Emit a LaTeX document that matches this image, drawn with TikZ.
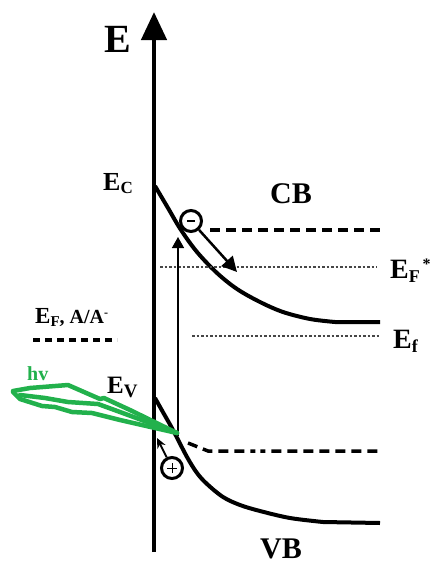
\documentclass[tikz,border=0pt]{standalone}
\usepackage{fontspec}
\setmainfont{Liberation Serif}
\usetikzlibrary{arrows.meta}
\definecolor{pgreen}{RGB}{34,177,76}
\definecolor{dotgray}{RGB}{70,70,70}
\newcommand\fsz[1]{\fontsize{#1}{#1}\selectfont}
\begin{document}
\begin{tikzpicture}[x=1pt,y=-1pt,
  lbl/.style={inner sep=0pt, anchor=base west, font=\bfseries},
  band/.style={line width=4pt, line join=round},
  dashedlvl/.style={line width=3.5pt, dash pattern=on 10pt off 6pt},
  dottedlvl/.style={dotgray, line width=2.5pt, dash pattern=on 2.5pt off 2pt},
  greenline/.style={pgreen, line width=4.5pt, line join=round, line cap=round},
  carrier/.style={circle, draw, line width=3pt, minimum size=21pt, inner sep=0pt}]
\useasboundingbox (0,0) rectangle (432,565);

% axis
\coordinate (axB) at (154,552);
\coordinate (axT) at (154,12);
\draw[line width=4.5pt, -{Triangle[length=28pt,width=25pt]}] (axB) -- (axT);

% conduction band
\draw[band] plot[smooth, tension=0.55] coordinates {(155,186) (168,208) (181,230) (197,252) (217,273) (237,289) (260,302) (283,312) (310,319) (335,322)} -- (380,322);
% valence band
\draw[band] plot[smooth, tension=0.55] coordinates {(155,398) (164,414) (173,430) (187,457) (197,473) (207,484) (223,497) (240,505) (260,511) (290,518) (323,522)} -- (380,523);

% levels
\coordinate (dA) at (210,230); \coordinate (dB) at (383,230);
\draw[dashedlvl] (dA) -- (dB);
\coordinate (fsA) at (160,267); \coordinate (fsB) at (377,267);
\draw[dottedlvl] (fsA) -- (fsB);
\coordinate (fA) at (192,336); \coordinate (fB) at (380,336);
\draw[dottedlvl] (fA) -- (fB);
\coordinate (aA) at (33,340); \coordinate (aB) at (117,340);
\draw[line width=3.5pt, dash pattern=on 7pt off 5pt] (aA) -- (aB);
\coordinate (vA) at (188,443); \coordinate (vK) at (208,451); \coordinate (vB) at (380,451);
\draw[line width=3.5pt, dash pattern=on 10pt off 6pt on 10pt off 6pt on 10pt off 6pt on 10pt off 6pt on 5pt off 5pt on 5pt off 6pt on 10pt off 6pt on 10pt off 6pt on 10pt off 6pt on 10pt off 6pt on 10pt off 6pt] (vA) -- (vK) -- (vB);

% excitation arrow
\coordinate (exB) at (178,436);
\coordinate (exT) at (178,237);
\draw[line width=1.5pt, -{Triangle[length=11pt,width=12pt]}] (exB) -- (exT);

% electron
\node[carrier] (el) at (191,221) {};
\draw[line width=2.5pt] ([xshift=-4pt]el.center) -- ([xshift=4pt]el.center);
\coordinate (elT) at (237,272);
\draw[line width=2.5pt, -{Triangle[length=15pt,width=15pt]}] (el) -- (elT);

% hole
\node[carrier] (ho) at (172,468) {};
\draw[line width=1pt] ([xshift=-5pt]ho.center) -- ([xshift=5pt]ho.center);
\draw[line width=1pt] ([yshift=-5pt]ho.center) -- ([yshift=5pt]ho.center);
\coordinate (hoT) at (157,438);
\draw[line width=2pt, -{Stealth[length=10pt,width=9pt]}] (ho) -- (hoT);

% light (green bolt)
\draw[greenline] (13,391) -- (30,388) -- (68,385) -- (100,399) -- (104,398) -- (130,410) -- (177,433);
\draw[greenline] (20,395) -- (45,398) -- (68,402) -- (98,404) -- (120,412) -- (177,433);
\draw[greenline] (13,392) -- (20,399) -- (42,406) -- (55,407) -- (72,412) -- (92,413) -- (120,420) -- (177,433);

% labels
\node[lbl] (lE) at (104,52) {\fsz{40}E};
\node[lbl] (lEC) at (103,190) {\fsz{26}E\raisebox{-3pt}{\fsz{17}C}};
\node[lbl] (lCB) at (270,203) {\fsz{30}CB};
\node[lbl] (lVB) at (260,558) {\fsz{30}VB};
\node[lbl] (lEFs) at (390,278) {\fsz{28}E\raisebox{-4pt}{\fsz{18}F}\raisebox{9pt}{\fsz{16}\,*}};
\node[lbl] (lEf) at (393,348) {\fsz{28}E\raisebox{-4pt}{\fsz{18}f}};
\node[lbl] (lEFA) at (35,323) {\fsz{23}E\raisebox{-3pt}{\fsz{15}F}\fsz{20}, A/A\raisebox{7pt}{\fsz{12}-}};
\node[lbl] (lEV) at (107,393) {\fsz{25}E\raisebox{-4pt}{\fsz{19}V}};
\node[lbl, text=pgreen] (lhv) at (27,380) {\fsz{20}hv};
\end{tikzpicture}
\end{document}
